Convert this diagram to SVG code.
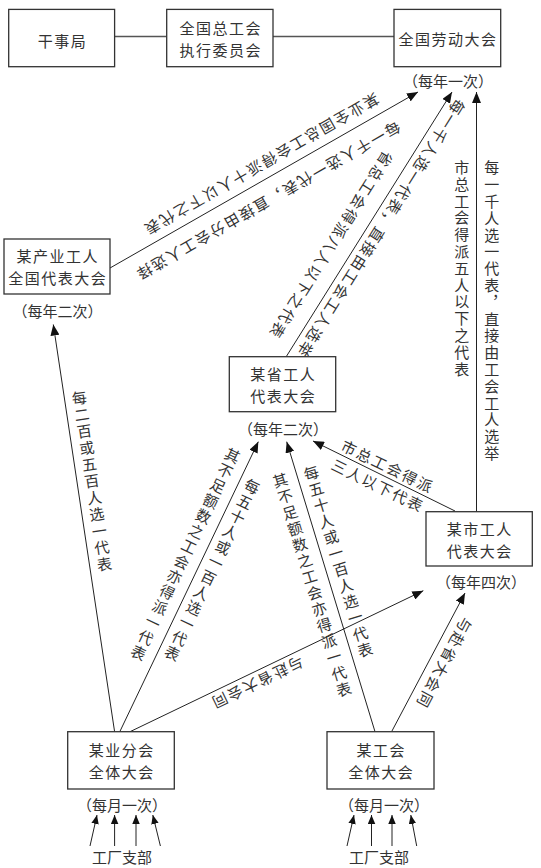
<svg xmlns="http://www.w3.org/2000/svg" width="541" height="868" viewBox="0 0 541 868">
<defs>
<style>
.box{fill:#fff;stroke:#333;stroke-width:1.3}
.lbl{font-family:"Noto Sans CJK SC","Noto Sans",sans-serif;font-size:15px;fill:#333;text-anchor:middle;dominant-baseline:central;letter-spacing:1.5px}
.fq{font-family:"Noto Sans CJK SC","Noto Sans",sans-serif;font-size:15px;fill:#333;text-anchor:middle;dominant-baseline:central}
.ct{font-family:"Noto Sans CJK SC","Noto Sans",sans-serif;font-size:15px;fill:#333;text-anchor:middle;dominant-baseline:central;letter-spacing:1.8px}
.vt{writing-mode:vertical-rl}
.ln{stroke:#222;stroke-width:1;fill:none;marker-end:url(#ah)}
.sl{stroke:#222;stroke-width:1;fill:none;marker-end:url(#ahs)}
.tl{stroke:#555;stroke-width:1.5;fill:none}
</style>
<marker id="ah" markerUnits="userSpaceOnUse" markerWidth="12" markerHeight="9" refX="11" refY="4.5" orient="auto"><path d="M0,0 L11,4.5 L0,9 Z" fill="#111"/></marker>
<marker id="ahs" markerUnits="userSpaceOnUse" markerWidth="10" markerHeight="8" refX="9" refY="3.75" orient="auto"><path d="M0,0 L9,3.75 L0,7.5 Z" fill="#111"/></marker>
</defs>
<rect width="541" height="868" fill="#fff"/>

<g id="connectors">
<line class="tl" x1="114.6" y1="36.5" x2="166.7" y2="36.5"/>
<line class="tl" x1="273" y1="36.5" x2="394" y2="36.5"/>
<line class="ln" x1="110" y1="268" x2="418" y2="92"/>
<line class="ln" x1="286" y1="357" x2="452" y2="92"/>
<line class="ln" x1="476.5" y1="512" x2="476.5" y2="92"/>
<line class="ln" x1="455" y1="511" x2="313" y2="441"/>
<line class="ln" x1="391.7" y1="731.5" x2="465" y2="593"/>
<line class="ln" x1="114.6" y1="731.7" x2="53.3" y2="324.5"/>
<line class="ln" x1="119.8" y1="731.7" x2="258.3" y2="441.7"/>
<line class="ln" x1="375" y1="731.7" x2="286.7" y2="441.7"/>
<line class="ln" x1="130" y1="731.7" x2="423.3" y2="590.7"/>
<line class="sl" x1="90" y1="846" x2="97" y2="815"/>
<line class="sl" x1="114.6" y1="846" x2="114.6" y2="815"/>
<line class="sl" x1="136" y1="846" x2="136" y2="815"/>
<line class="sl" x1="160.4" y1="846" x2="152.8" y2="815"/>
<line class="sl" x1="347" y1="846" x2="354" y2="815"/>
<line class="sl" x1="371.5" y1="846" x2="371.5" y2="815"/>
<line class="sl" x1="392" y1="846" x2="392" y2="815"/>
<line class="sl" x1="416.7" y1="846" x2="410.8" y2="815"/>

<text class="ct" transform="translate(261.5,165) rotate(150.1)">某业全国总工会得派十人以下之代表</text>
<text class="ct" transform="translate(268.3,201.5) rotate(150.1)">每一千人选一代表，直接由分会工人选择</text>
<text class="ct" transform="translate(331.7,245.8) rotate(122.1)">省总工会得派八人以下之代表</text>
<text class="ct" transform="translate(381.5,229) rotate(122.1)">每一千人选一代表，直接由工会工人选举</text>
<text class="ct vt" transform="translate(461.7,269)">市总工会得派五人以下之代表</text>
<text class="ct vt" transform="translate(491.7,311.5)">每一千人选一代表，直接由工会工人选举</text>
<text class="ct" transform="translate(388,466) rotate(25.9)">市总工会得派</text>
<text class="ct" transform="translate(378.3,485) rotate(25.9)">三人以下代表</text>
<text class="ct" transform="translate(445,663.3) rotate(117.9)">与赴省大会同</text>
<text class="ct" transform="translate(257.5,683.3) rotate(154.3)">与赴省大会同</text>
<text class="ct vt" transform="translate(92,482) rotate(-8.6)">每二百或五百人选一代表</text>
<text class="ct vt" transform="translate(185,555) rotate(25.5)">其不足额数之工会亦得派一代表</text>
<text class="ct vt" transform="translate(211.7,570.8) rotate(25.5)">每五十人或一百人选一代表</text>
<text class="ct vt" transform="translate(312.3,585.7) rotate(-16.9)">其不足额数之工会亦得派一代表</text>
<text class="ct vt" transform="translate(338.5,562.3) rotate(-16.9)">每五十人或一百人选一代表</text>
</g>

<g id="node-ganshiju">
<rect class="box" x="8.7" y="9.4" width="105.9" height="57.3"/>
<text class="lbl" x="62.4" y="40">干事局</text>
</g>
<g id="node-zhixing">
<rect class="box" x="166.7" y="9.4" width="106.3" height="57.3"/>
<text class="lbl" x="220.7" y="27">全国总工会</text>
<text class="lbl" x="220.7" y="49.5">执行委员会</text>
</g>
<g id="node-laodong">
<rect class="box" x="394" y="9.4" width="106.7" height="57.3"/>
<text class="lbl" x="448" y="38">全国劳动大会</text>
<text class="fq" x="448" y="80">（每年一次）</text>
</g>
<g id="node-chanye">
<rect class="box" x="4" y="239" width="106" height="55"/>
<text class="lbl" x="57.7" y="255.5">某产业工人</text>
<text class="lbl" x="57.7" y="277.5">全国代表大会</text>
<text class="fq" x="57.5" y="310">（每年二次）</text>
</g>
<g id="node-sheng">
<rect class="box" x="229.3" y="356.7" width="106.4" height="55"/>
<text class="lbl" x="283.2" y="373.2">某省工人</text>
<text class="lbl" x="283.2" y="395.2">代表大会</text>
<text class="fq" x="283" y="428.3">（每年二次）</text>
</g>
<g id="node-shi">
<rect class="box" x="426" y="511.7" width="106.3" height="54.3"/>
<text class="lbl" x="479.7" y="528">某市工人</text>
<text class="lbl" x="479.7" y="550">代表大会</text>
<text class="fq" x="481" y="581.7">（每年四次）</text>
</g>
<g id="node-yefenhui">
<rect class="box" x="67.7" y="731.7" width="106.6" height="57.3"/>
<text class="lbl" x="121.7" y="749.3">某业分会</text>
<text class="lbl" x="121.7" y="771.3">全体大会</text>
<text class="fq" x="122" y="804.6">（每月一次）</text>
<text class="fq" x="122" y="856.7">工厂支部</text>
</g>
<g id="node-gonghui">
<rect class="box" x="327" y="731.7" width="107" height="57.3"/>
<text class="lbl" x="381.2" y="749.3">某工会</text>
<text class="lbl" x="381.2" y="771.3">全体大会</text>
<text class="fq" x="384" y="804.6">（每月一次）</text>
<text class="fq" x="379" y="856.7">工厂支部</text>
</g>
</svg>
